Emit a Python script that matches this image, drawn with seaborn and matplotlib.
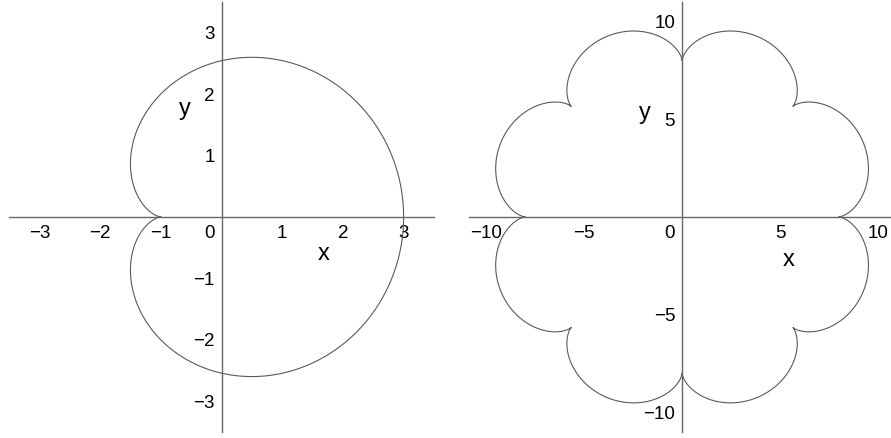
import numpy as np
import pandas as pd
import matplotlib
matplotlib.use("Agg")
import matplotlib.pyplot as plt
import matplotlib.transforms as mtransforms
from matplotlib.ticker import MultipleLocator
import seaborn as sns

# epicycloid parameters (cusp radius R, rolling circle r)
fixed_radius = [1, 8]
rolling_radius = [1, 1]
turn = [np.pi, 0.0]           # left curve is turned half way round (cusp at x=-1)
x_ticks = [[-3, -2, -1, 0, 1, 2, 3], [-10, -5, 0, 5, 10]]
y_ticks = [[-3, -2, -1, 1, 2, 3], [-10, -5, 5, 10]]
minor_step = [0.2, 1.0]
x_limits = [(-3.5, 3.5), (-10.87, 10.66)]
y_limits = [(-3.5, 3.5), (-11.0, 11.0)]
x_label_pos = [(1.68, -0.6), (5.45, -2.2)]
y_label_pos = [(-0.6, 1.75), (-1.9, 5.3)]


def epicycloid(R, r, rot):
    t = np.linspace(0, 2 * np.pi, 2000)
    k = (R + r) / r
    x = (R + r) * np.cos(t) - r * np.cos(k * t)
    y = (R + r) * np.sin(t) - r * np.sin(k * t)
    xr = x * np.cos(rot) - y * np.sin(rot)
    yr = x * np.sin(rot) + y * np.cos(rot)
    return pd.DataFrame({"x": xr, "y": yr})


sns.set_style("white")
plt.rcParams["font.family"] = ["Liberation Sans", "DejaVu Sans"]
plt.rcParams["text.color"] = "black"
plt.rcParams["xtick.labelcolor"] = "black"
plt.rcParams["ytick.labelcolor"] = "black"

fig = plt.figure(figsize=(8.91, 4.38), dpi=100)
axes = [fig.add_axes([0.0101, 0.0137, 0.477, 0.982]),
        fig.add_axes([0.5264, 0.0137, 0.4736, 0.982])]

line_col = "#5a5a5a"
axis_col = "#666666"

for i, ax in enumerate(axes):
    df = epicycloid(fixed_radius[i], rolling_radius[i], turn[i])
    sns.lineplot(data=df, x="x", y="y", sort=False, estimator=None,
                 color=line_col, linewidth=0.8, ax=ax)
    ax.set_xlim(*x_limits[i])
    ax.set_ylim(*y_limits[i])
    ax.set_xlabel("")
    ax.set_ylabel("")
    ax.set_facecolor("none")

    for s in ["top", "right"]:
        ax.spines[s].set_visible(False)
    ax.spines["left"].set_position("zero")
    ax.spines["bottom"].set_position("zero")
    for s in ["left", "bottom"]:
        ax.spines[s].set_color(axis_col)
        ax.spines[s].set_linewidth(1.0)

    ax.set_xticks(x_ticks[i])
    ax.set_yticks(y_ticks[i])
    ax.set_xticklabels([str(v).replace("-", "\u2212") for v in x_ticks[i]])
    ax.set_yticklabels([str(v).replace("-", "\u2212") for v in y_ticks[i]])
    ax.xaxis.set_minor_locator(MultipleLocator(minor_step[i]))
    ax.yaxis.set_minor_locator(MultipleLocator(minor_step[i]))
    ax.tick_params(axis="x", which="major", direction="in", length=3,
                   width=0.8, color=axis_col, labelsize=13.5, pad=6)
    ax.tick_params(axis="y", which="major", direction="out", length=3,
                   width=0.8, color=axis_col, labelsize=13.5, pad=2)
    ax.tick_params(axis="x", which="minor", direction="in", length=2,
                   width=0.6, color=axis_col)
    ax.tick_params(axis="y", which="minor", direction="out", length=2,
                   width=0.6, color=axis_col)

    # shift the 0 label left of the vertical axis
    for lab in ax.get_xticklabels():
        if lab.get_text() == "0":
            lab.set_transform(lab.get_transform() +
                              mtransforms.ScaledTranslation(-9 / 72, 0, fig.dpi_scale_trans))

    ax.text(*x_label_pos[i], "x", fontsize=17, ha="center", va="center")
    ax.text(*y_label_pos[i], "y", fontsize=17, ha="center", va="center")

fig.savefig("out.png", dpi=100)
